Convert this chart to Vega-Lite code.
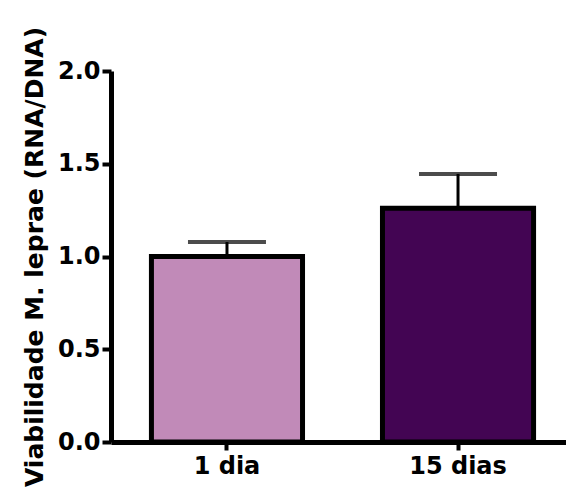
{
  "$schema": "https://vega.github.io/schema/vega-lite/v6.json",
  "width": 463,
  "height": 371,
  "autosize": {"type": "none"},
  "padding": {"left": 111, "top": 71, "right": 0, "bottom": 46},
  "background": "white",
  "config": {
    "view": {"stroke": null},
    "font": "DejaVu Sans"
  },
  "data": {
    "values": [
      {"group": "1 dia", "value": 1.0, "err": 0.078},
      {"group": "15 dias", "value": 1.26, "err": 0.185}
    ]
  },
  "encoding": {
    "x": {
      "field": "group",
      "type": "nominal",
      "sort": null,
      "scale": {"paddingInner": 0.346, "paddingOuter": 0.175},
      "axis": {
        "title": null,
        "labelAngle": 0,
        "labelFont": "DejaVu Sans",
        "labelFontWeight": "bold",
        "labelFontSize": 24,
        "labelColor": "black",
        "labelPadding": 4,
        "domainColor": "black",
        "domainWidth": 5,
        "tickColor": "black",
        "tickWidth": 4,
        "tickSize": 8,
        "offset": 0
      }
    }
  },
  "layer": [
    {
      "mark": {"type": "bar", "stroke": "black", "strokeWidth": 5},
      "encoding": {
        "y": {
          "field": "value",
          "type": "quantitative",
          "scale": {"domain": [0, 2]},
          "axis": {
            "title": "Viabilidade M. leprae (RNA/DNA)",
            "titleFont": "DejaVu Sans",
            "titleFontWeight": "bold",
            "titleFontSize": 25,
            "titleColor": "black",
            "titlePadding": 10,
            "values": [0, 0.5, 1, 1.5, 2],
            "format": ".1f",
            "labelFont": "DejaVu Sans",
            "labelFontWeight": "bold",
            "labelFontSize": 24,
            "labelColor": "black",
            "labelPadding": 2,
            "grid": false,
            "domainColor": "black",
            "domainWidth": 5,
            "tickColor": "black",
            "tickWidth": 4,
            "tickSize": 9
          }
        },
        "color": {
          "field": "group",
          "type": "nominal",
          "scale": {"domain": ["1 dia", "15 dias"], "range": ["#C18AB8", "#430553"]},
          "legend": null
        }
      }
    },
    {
      "mark": {"type": "rule", "color": "black", "strokeWidth": 3},
      "encoding": {
        "y": {"field": "value", "type": "quantitative"},
        "y2": {"field": "top"}
      },
      "transform": [{"calculate": "datum.value + datum.err", "as": "top"}]
    },
    {
      "mark": {"type": "tick", "color": "black", "thickness": 4, "size": 78, "orient": "horizontal"},
      "transform": [{"calculate": "datum.value + datum.err", "as": "top"}],
      "encoding": {
        "y": {"field": "top", "type": "quantitative"}
      }
    }
  ]
}
